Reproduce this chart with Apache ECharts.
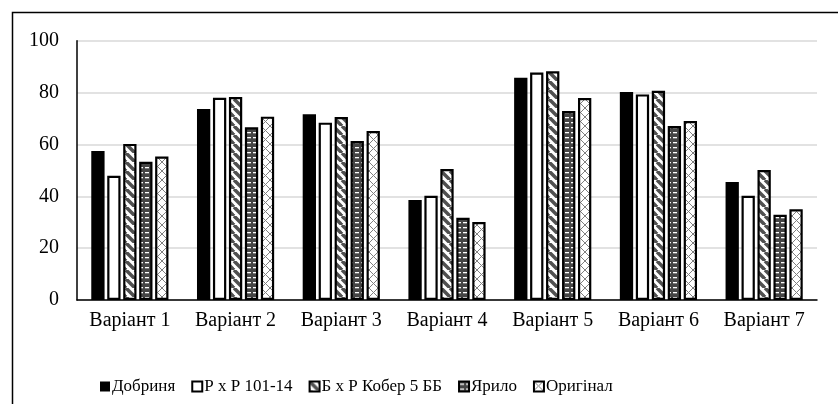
<!DOCTYPE html>
<html><head><meta charset="utf-8">
<script src="https://cdn.jsdelivr.net/npm/echarts@6/dist/echarts.min.js"></script>
<style>html,body{margin:0;padding:0;background:#fff}#c{width:838px;height:404px}</style>
</head><body><div id="c"></div>
<script>
const categories = ['Варіант 1','Варіант 2','Варіант 3','Варіант 4','Варіант 5','Варіант 6','Варіант 7'];
const seriesNames = ['Добриня','Р х Р 101-14','Б х Р Кобер 5 ББ','Ярило','Оригінал'];
const dobrynia = [57.5, 73.7, 71.6, 38.6, 85.7, 80.2, 45.5];
const rxr = [47.9, 78.0, 68.4, 40.2, 87.7, 79.3, 40.2];
const bxr = [60.2, 78.3, 70.6, 50.5, 88.2, 80.7, 50.1];
const yarylo = [53.3, 66.6, 61.3, 31.7, 72.9, 67.1, 32.9];
const original = [55.3, 70.7, 65.2, 30.1, 77.9, 69.0, 35.0];
const yTicks = [0, 20, 40, 60, 80, 100];

function mk(w, h, draw) {
  const c = document.createElement('canvas');
  c.width = w; c.height = h;
  draw(c.getContext('2d'));
  return c;
}
const stripe = mk(9, 9, g => {
  g.fillStyle = '#fff'; g.fillRect(0, 0, 9, 9);
  g.strokeStyle = '#505050'; g.lineWidth = 3.5;
  for (const o of [-9, 0, 9]) { g.beginPath(); g.moveTo(o, 0); g.lineTo(o + 9, 9); g.stroke(); }
});
const dash = mk(6, 5, g => {
  g.fillStyle = '#454545'; g.fillRect(0, 0, 6, 5);
  g.fillStyle = '#fff'; g.fillRect(1, 2, 4, 1.3);
});
const cross = mk(9, 9, g => {
  g.fillStyle = '#fff'; g.fillRect(0, 0, 9, 9);
  g.strokeStyle = '#808080'; g.lineWidth = 1;
  g.beginPath(); g.moveTo(0, 0); g.lineTo(9, 9); g.moveTo(9, 0); g.lineTo(0, 9); g.stroke();
});

const fills = [
  '#000000',
  '#ffffff',
  { image: stripe, repeat: 'repeat' },
  { image: dash, repeat: 'repeat' },
  { image: cross, repeat: 'repeat' }
];
const values = [dobrynia, rxr, bxr, yarylo, original];
const font = 'Liberation Serif';

const chart = echarts.init(document.getElementById('c'));
chart.setOption({
  animation: false,
  backgroundColor: '#fff',
  textStyle: { fontFamily: font },
  graphic: [{
    type: 'rect', left: 10, top: 10, z: -1,
    shape: { width: 900, height: 500 },
    style: { fill: 'none', stroke: '#000', lineWidth: 1.5 }
  }],
  grid: { left: 77, right: 21, top: 40.7, bottom: 104 },
  legend: {
    left: 95, top: 373, itemWidth: 10, itemHeight: 10, itemGap: 16,
    icon: 'rect',
    textStyle: { fontFamily: font, fontSize: 17, color: '#000', padding: [0, 0, 0, -3] },
    data: seriesNames
  },
  xAxis: {
    type: 'category', data: categories,
    axisLine: { lineStyle: { color: '#000', width: 1.5 } },
    axisTick: { show: false },
    axisLabel: { fontFamily: font, fontSize: 20, color: '#000', margin: 11 }
  },
  yAxis: {
    type: 'value', min: yTicks[0], max: yTicks[yTicks.length - 1], interval: 20,
    axisLine: { show: true, lineStyle: { color: '#000', width: 1.5 } },
    axisTick: { show: false },
    axisLabel: { fontFamily: font, fontSize: 20, color: '#000', margin: 18 },
    splitLine: { lineStyle: { color: '#d9d9d9', width: 1.5 } }
  },
  series: seriesNames.map((n, i) => ({
    name: n, type: 'bar', data: values[i],
    barGap: '20%', barCategoryGap: '27%',
    itemStyle: { color: fills[i], borderColor: '#000', borderWidth: i === 0 ? 0 : 2.2 }
  }))
});
</script></body></html>
